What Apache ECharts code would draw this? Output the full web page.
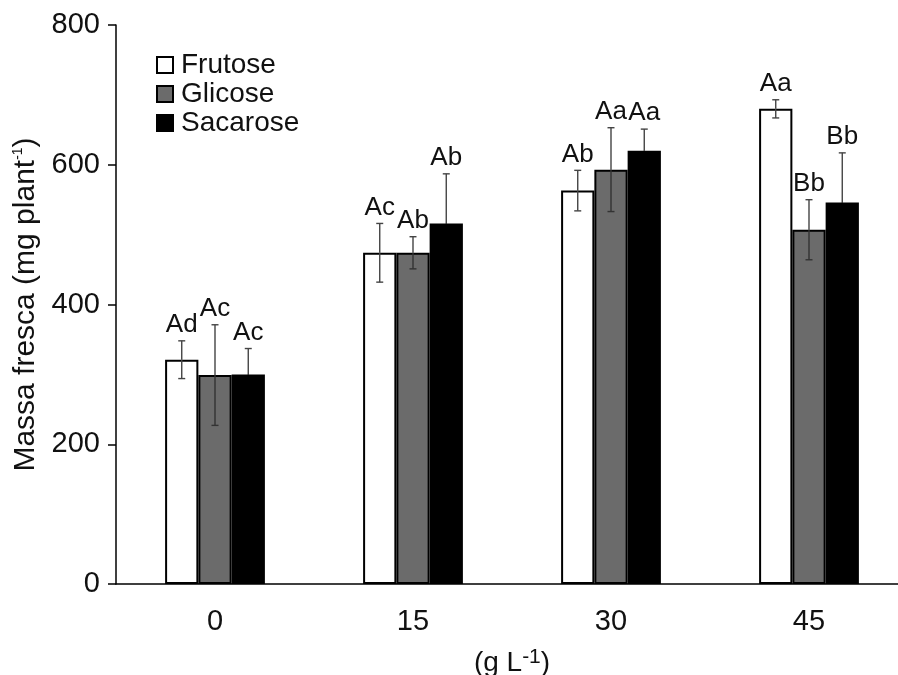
<!DOCTYPE html>
<html>
<head>
<meta charset="utf-8">
<script src="https://cdn.jsdelivr.net/npm/echarts@6/dist/echarts.min.js"></script>
<style>
  html, body { margin: 0; padding: 0; background: #fff; }
  #chart { width: 898px; height: 675px; }
</style>
</head>
<body>
<div id="chart"></div>
<script>
var categories = ['0', '15', '30', '45'];
var frutose = [321, 474, 563, 680];
var glicose = [299, 474, 593, 507];
var sacarose = [300, 516, 620, 546];
var frutoseErr = [27, 42, 29, 13];
var glicoseErr = [72, 23, 60, 43];
var sacaroseErr = [37, 71, 31, 71];
var frutoseLetters = ['Ad', 'Ac', 'Ab', 'Aa'];
var glicoseLetters = ['Ac', 'Ab', 'Aa', 'Bb'];
var sacaroseLetters = ['Ac', 'Ab', 'Aa', 'Bb'];

var FONT = '"Liberation Sans", Arial, sans-serif';
var BAR_FRAC = 0.168;

var myChart = echarts.init(document.getElementById('chart'));

// error bars + letters, drawn over the bars
function errSeries(idx, vals, errs, letters, innerColor) {
    return {
        type: 'custom',
        name: 'err' + idx,
        z: 5,
        data: vals.map(function (v, i) { return [i, v, errs[i]]; }),
        renderItem: function (params, api) {
            var i = api.value(0), v = api.value(1), e = api.value(2);
            var band = api.size([1, 0])[0];
            var off = (idx - 1) * band * BAR_FRAC;
            var top = api.coord([i, v + e]);
            var mid = api.coord([i, v]);
            var bot = api.coord([i, v - e]);
            var x = top[0] + off;
            var cap = 3.5;
            var outer = { stroke: '#444', lineWidth: 1.4 };
            var inner = { stroke: innerColor, lineWidth: 1.4 };
            return {
                type: 'group',
                children: [
                    { type: 'line', shape: { x1: x, y1: top[1], x2: x, y2: mid[1] }, style: outer },
                    { type: 'line', shape: { x1: x - cap, y1: top[1], x2: x + cap, y2: top[1] }, style: outer },
                    { type: 'line', shape: { x1: x, y1: mid[1], x2: x, y2: bot[1] }, style: inner },
                    { type: 'line', shape: { x1: x - cap, y1: bot[1], x2: x + cap, y2: bot[1] }, style: inner },
                    {
                        type: 'text',
                        x: x, y: top[1] - 3,
                        style: {
                            text: letters[params.dataIndex],
                            font: '26px ' + FONT,
                            fill: '#111',
                            align: 'center',
                            verticalAlign: 'bottom'
                        }
                    }
                ]
            };
        }
    };
}

function barSeries(name, data, color) {
    return {
        name: name,
        type: 'bar',
        barWidth: (BAR_FRAC * 100) + '%',
        barGap: '0%',
        data: data,
        itemStyle: { color: color, borderColor: '#000', borderWidth: 2 }
    };
}

var option = {
    animation: false,
    backgroundColor: '#fff',
    textStyle: { fontFamily: FONT },
    legend: {
        orient: 'vertical',
        left: 156,
        top: 51,
        padding: 0,
        icon: 'rect',
        itemWidth: 16,
        itemHeight: 16,
        itemGap: 1,
        data: ['Frutose', 'Glicose', 'Sacarose'],
        textStyle: { fontSize: 28, color: '#111', fontFamily: FONT, padding: [0, 0, 0, 3] }
    },
    grid: {
        left: 116,
        right: -10,
        top: 25,
        bottom: 91,
        outerBoundsMode: 'none'
    },
    xAxis: {
        type: 'category',
        data: categories,
        name: '{a|(g L}{s|-1}{a|)}',
        nameLocation: 'middle',
        nameGap: 63,
        nameTextStyle: {
            rich: {
                a: { fontSize: 28, color: '#111', fontFamily: FONT },
                s: { fontSize: 21, color: '#111', fontFamily: FONT, padding: [0, 0, 12, 0] }
            }
        },
        axisLine: { lineStyle: { color: '#000', width: 1.5 } },
        axisTick: { length: 8, lineStyle: { color: '#000', width: 1.5 } },
        axisLabel: { fontSize: 29, color: '#111', margin: 23, fontFamily: FONT }
    },
    yAxis: {
        type: 'value',
        min: 0,
        max: 800,
        interval: 200,
        name: '{a|Massa fresca (mg plant}{s|-1}{a|)}',
        nameLocation: 'middle',
        nameGap: 72,
        nameTextStyle: {
            rich: {
                a: { fontSize: 30, color: '#111', fontFamily: FONT },
                s: { fontSize: 14, color: '#111', fontFamily: FONT, padding: [0, 0, 16, 0] }
            }
        },
        splitLine: { show: false },
        axisLine: { show: true, lineStyle: { color: '#000', width: 1.5 } },
        axisTick: { show: true, length: 8, lineStyle: { color: '#000', width: 1.5 } },
        axisLabel: { fontSize: 29, color: '#111', margin: 16, fontFamily: FONT }
    },
    series: [
        barSeries('Frutose', frutose, '#ffffff'),
        barSeries('Glicose', glicose, '#6b6b6b'),
        barSeries('Sacarose', sacarose, '#000000'),
        errSeries(0, frutose, frutoseErr, frutoseLetters, '#444'),
        errSeries(1, glicose, glicoseErr, glicoseLetters, '#333'),
        errSeries(2, sacarose, sacaroseErr, sacaroseLetters, '#000')
    ]
};

myChart.setOption(option);
</script>
</body>
</html>
